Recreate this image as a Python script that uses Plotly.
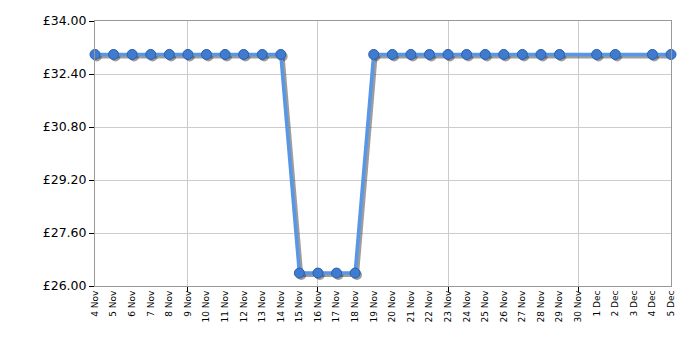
import plotly.graph_objects as go

dates = ["4 Nov", "5 Nov", "6 Nov", "7 Nov", "8 Nov", "9 Nov", "10 Nov", "11 Nov",
         "12 Nov", "13 Nov", "14 Nov", "15 Nov", "16 Nov", "17 Nov", "18 Nov", "19 Nov",
         "20 Nov", "21 Nov", "22 Nov", "23 Nov", "24 Nov", "25 Nov", "26 Nov", "27 Nov",
         "28 Nov", "29 Nov", "30 Nov", "1 Dec", "2 Dec", "3 Dec", "4 Dec", "5 Dec"]
prices = [32.99, 32.99, 32.99, 32.99, 32.99, 32.99, 32.99, 32.99, 32.99, 32.99, 32.99,
          26.39, 26.39, 26.39, 26.39,
          32.99, 32.99, 32.99, 32.99, 32.99, 32.99, 32.99, 32.99, 32.99, 32.99, 32.99,
          None, 32.99, 32.99, None, 32.99, 32.99]
y_ticks = [26.00, 27.60, 29.20, 30.80, 32.40, 34.00]
grid_dates = ["9 Nov", "16 Nov", "23 Nov", "30 Nov"]

xs = list(range(len(dates)))
pts = [(x, y) for x, y in zip(xs, prices) if y is not None]
px_x = [p[0] for p in pts]
px_y = [p[1] for p in pts]

fig = go.Figure()
# shadow
fig.add_trace(go.Scatter(
    x=[x + 0.1 for x in px_x], y=[y - 0.06 for y in px_y], mode="lines+markers",
    line=dict(color="rgba(60,60,60,0.5)", width=4),
    marker=dict(size=10, color="rgba(60,60,60,0.5)", line=dict(width=0)),
    cliponaxis=False, hoverinfo="skip", showlegend=False))
fig.add_trace(go.Scatter(
    x=px_x, y=px_y, mode="lines+markers",
    line=dict(color="#5896e6", width=3.5),
    marker=dict(size=10, color="#3f7bd0", line=dict(color="#2b5ea8", width=1)),
    cliponaxis=False, showlegend=False))
# invisible trace on overlay axis for weekly grid
fig.add_trace(go.Scatter(x=[0, len(dates) - 1], y=[None, None], xaxis="x2",
                         showlegend=False, hoverinfo="skip"))

font = dict(family="DejaVu Sans, Verdana, sans-serif", color="#000")
fig.update_layout(
    width=700, height=350, margin=dict(l=95, r=29, t=21, b=64),
    paper_bgcolor="white", plot_bgcolor="white", font=font,
    xaxis=dict(range=[0, len(dates) - 1], tickvals=xs, ticktext=dates, tickangle=-90,
               tickfont=dict(size=9), showgrid=False, zeroline=False,
               showline=True, linecolor="#999", linewidth=1, mirror=True, ticks="",
               ticklen=0),
    xaxis2=dict(overlaying="x", range=[0, len(dates) - 1],
                tickvals=[dates.index(d) for d in grid_dates], showticklabels=False,
                showgrid=True, gridcolor="#cccccc", gridwidth=1, ticks="outside",
                ticklen=5, tickcolor="#000", side="bottom", zeroline=False,
                layer="below traces"),
    yaxis=dict(range=[26, 34], tickvals=y_ticks,
               ticktext=["£%.2f" % v for v in y_ticks], tickfont=dict(size=12.5),
               showgrid=True, gridcolor="#cccccc", zeroline=False,
               showline=True, linecolor="#999", mirror=True, ticks="outside",
               ticklen=5, tickcolor="#000"),
)
fig.write_html("out.html")
